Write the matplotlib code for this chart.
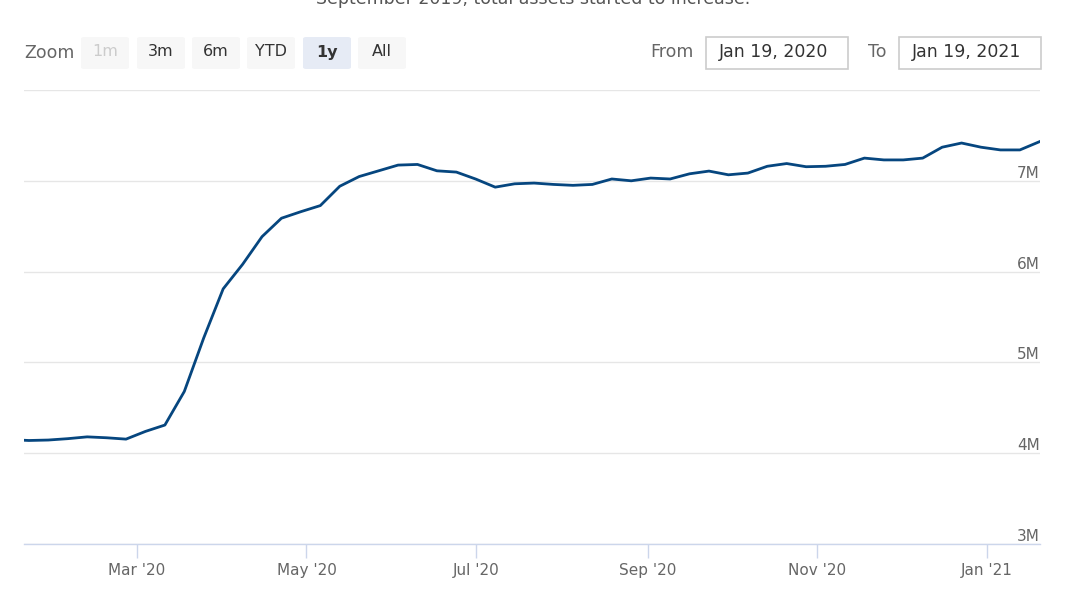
import numpy as np
import pandas as pd
import matplotlib
matplotlib.use("Agg")
import matplotlib.pyplot as plt
import matplotlib.dates as mdates
from matplotlib.patches import FancyBboxPatch, Rectangle

# weekly total assets (millions of USD -> shown in M)
dates = pd.date_range("2020-01-15", "2021-01-20", freq="7D")
assets = [
    4.15, 4.14, 4.145, 4.16, 4.18, 4.17, 4.155,              # Jan 15 - Feb 26
    4.24, 4.31, 4.68, 5.27, 5.81, 6.08, 6.385, 6.588, 6.66,   # Mar 4 - Apr 29
    6.727, 6.94, 7.047, 7.11, 7.173, 7.18, 7.11, 7.096,       # May 6 - Jun 24
    7.019, 6.93, 6.967, 6.975, 6.96, 6.95, 6.96, 7.02, 7.00,  # Jul 1 - Aug 26
    7.03, 7.02, 7.077, 7.107, 7.066, 7.085, 7.16, 7.19, 7.155,  # Sep 2 - Oct 28
    7.16, 7.18, 7.25, 7.23, 7.23, 7.25, 7.37, 7.416, 7.37,    # Nov 4 - Dec 30
    7.34, 7.34, 7.43,                                         # Jan 6 - Jan 20
]
y_ticks = [3, 4, 5, 6, 7, 8]
buttons = ["1m", "3m", "6m", "YTD", "1y", "All"]
from_date = "Jan 19, 2020"
to_date = "Jan 19, 2021"
note = "September 2019, total assets started to increase."

W, H = 1078, 600
fig = plt.figure(figsize=(W / 100, H / 100), dpi=100)
plt.rcParams["font.family"] = ["DejaVu Sans"]

def fx(px):
    return px / W

def fy(py):
    return 1 - py / H

ax = fig.add_axes([fx(24), fy(544), fx(1040) - fx(24), fy(90) - fy(544)])

ax.plot(dates, assets, color="#06467f", linewidth=2.0, solid_joinstyle="round", zorder=3)

start = pd.Timestamp("2020-01-20 06:00")
ax.set_xlim(start, start + pd.Timedelta(days=366))
ax.set_ylim(3, 8)

ax.set_yticks(y_ticks)
ax.yaxis.grid(True, color="#e6e6e6", linewidth=1)
ax.tick_params(axis="y", length=0, labelleft=False)
for v in y_ticks[:-1]:
    ax.text(1, v, f"{v}M", transform=ax.get_yaxis_transform(), ha="right",
            va="bottom", fontsize=11, color="#666666")

ax.xaxis.set_major_locator(mdates.MonthLocator(bymonth=[1, 3, 5, 7, 9, 11]))
ax.xaxis.set_major_formatter(mdates.DateFormatter("%b '%y"))
ax.tick_params(axis="x", length=10, width=1, color="#ccd6eb", labelsize=11,
               labelcolor="#666666", pad=4)

for s in ["top", "left", "right"]:
    ax.spines[s].set_visible(False)
ax.spines["bottom"].set_color("#ccd6eb")
ax.spines["bottom"].set_linewidth(1)
ax.set_axisbelow(True)

# cut-off note text at the very top
fig.text(fx(533), fy(4), note, ha="center", va="baseline", fontsize=12.5, color="#555555")

# range selector
fig.text(fx(24), fy(53), "Zoom", ha="left", va="center", fontsize=12.5, color="#666666")
bx = [81, 137, 192, 247, 303, 358]
for b, x0 in zip(buttons, bx):
    face = "#e6ebf5" if b == "1y" else "#f7f7f7"
    fig.patches.append(FancyBboxPatch((fx(x0), fy(69)), fx(48), fy(37) - fy(69),
                                      boxstyle="round,pad=0,rounding_size=0.003",
                                      transform=fig.transFigure, facecolor=face,
                                      edgecolor="none"))
    col = "#cccccc" if b == "1m" else "#333333"
    fig.text(fx(x0 + 24), fy(52), b, ha="center", va="center", fontsize=11.5,
             color=col, fontweight="bold" if b == "1y" else "normal")

# date inputs
fig.text(fx(694), fy(52), "From", ha="right", va="center", fontsize=12.5, color="#666666")
fig.text(fx(886), fy(52), "To", ha="right", va="center", fontsize=12.5, color="#666666")
for x0, label in [(706, from_date), (899, to_date)]:
    fig.patches.append(Rectangle((fx(x0), fy(69)), fx(142), fy(37) - fy(69),
                                 transform=fig.transFigure, facecolor="white",
                                 edgecolor="#cccccc", linewidth=1.2))
    fig.text(fx(x0 + 68), fy(52), label, ha="center", va="center", fontsize=12.5,
             color="#333333")

fig.savefig("out.png", dpi=100)
